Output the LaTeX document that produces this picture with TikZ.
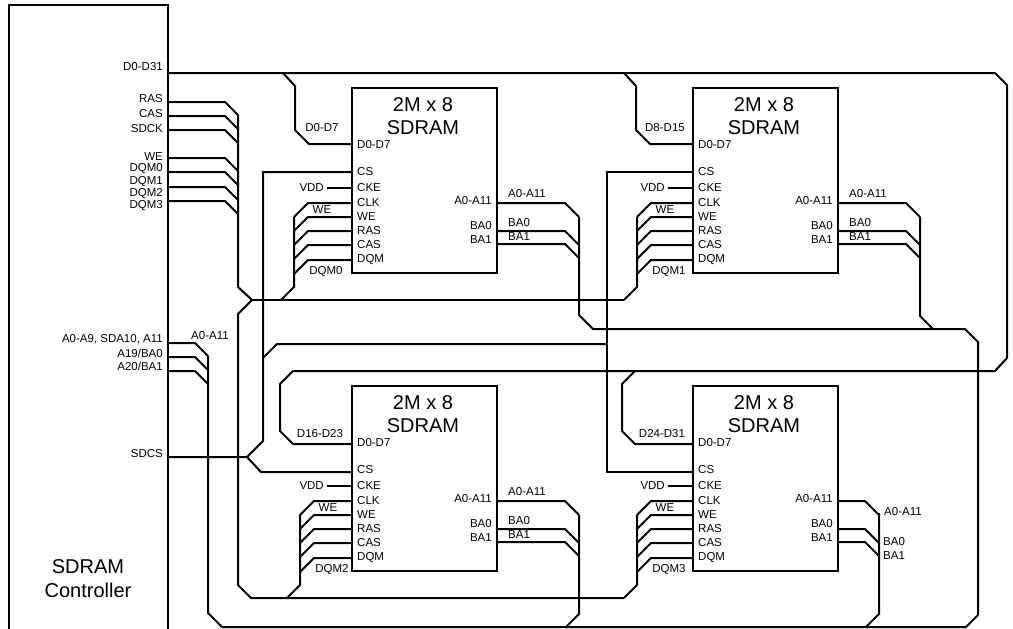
\documentclass[tikz,border=0pt]{standalone}
\usepackage{fontspec}
\setmainfont{Liberation Sans}
\usetikzlibrary{positioning,calc}

\begin{document}
\begin{tikzpicture}[x=1pt,y=-1pt,
        wire/.style={line width=2pt},
        chipbox/.style={draw,line width=2pt,minimum width=145pt,minimum height=185pt,inner sep=0pt},
        pin/.style={font=\fontsize{11.5}{12}\selectfont,inner sep=0pt},
        title/.style={font=\fontsize{20}{22}\selectfont,inner sep=0pt}]
    \useasboundingbox (0,0) rectangle (1013,629);

    % controller
    \draw[wire] (9,629) -- (9,5) -- (168,5) -- (168,629);
    \node[title] (ctrlA) at (88,567) {SDRAM};
    \node[title] (ctrlB) at (88,590) {Controller};
    \foreach \y/\t in {67/D0-D31,99/RAS,114/CAS,129/SDCK,157/WE,169/DQM0,182/DQM1,194/DQM2,206/DQM3,454/SDCS}
        \node[pin,anchor=east] (ctl-\y) at (163,\y) {\t};
    \node[pin,anchor=east] (ctl-adr) at (163,339) {A0-A9, SDA10, A11};
    \node[pin,anchor=east] (ctl-ba0) at (163,353) {A19/BA0};
    \node[pin,anchor=east] (ctl-ba1) at (163,366) {A20/BA1};
    \node[pin] (adrbus) at (210,336) {A0-A11};

    % the four memory chips
    \foreach \n/\dx/\dy/\bx/\dqm/\ra in {0/0/0/294/DQM0/565,1/341/0/296/DQM1/565,2/0/298/300/DQM2/565,3/341/298/296/DQM3/524} {
        \begin{scope}[shift={(\dx,\dy)}]
            \node[chipbox] (chip\n) at (424.5,180.5) {};
            \node[title] (chip\n-size) at (423,105) {2M x 8};
            \node[title] (chip\n-type) at (423,128) {SDRAM};
            \foreach \y/\t in {145/D0-D7,172/CS,188/CKE,203/CLK,217/WE,231/RAS,245/CAS,260/DQM}
                \node[pin,anchor=west] (chip\n-l\y) at (357,\y) {\t};
            \foreach \y/\t in {201/A0-A11,226/BA0,240/BA1}
                \node[pin,anchor=east] (chip\n-r\y) at (492,\y) {\t};
            \node[pin,anchor=east] (chip\n-vdd) at (324,188) {VDD};
            \draw[wire] (327,188) -- (352,188);
            \foreach \y in {203,217,231,245,260}
                \draw[wire] (352,\y) -- (\bx+14,\y) -- (\bx,\y+14);
            \draw[wire] (\bx,217) -- (\bx,287) -- (\bx-13,300);
            \node[pin] (chip\n-we) at (\bx+28,210) {WE};
            \node[pin] (chip\n-dqm) at (\bx+32,272) {\dqm};
            \foreach \y in {203,231,244}
                \draw[wire] (497,\y) -- (\ra,\y) -- (\ra+14,\y+14);
        \end{scope}
    }

    % address pin labels outside the chips
    \foreach \n/\dx/\dy in {0/0/0,1/341/0,2/0/298} {
        \node[pin,anchor=west] (adr\n-a) at (508+\dx,194+\dy) {A0-A11};
        \node[pin,anchor=west] (adr\n-b) at (508+\dx,223+\dy) {BA0};
        \node[pin,anchor=west] (adr\n-c) at (508+\dx,237+\dy) {BA1};
    }
    \node[pin,anchor=west] (adr3-a) at (884,512) {A0-A11};
    \node[pin,anchor=west] (adr3-b) at (883,542) {BA0};
    \node[pin,anchor=west] (adr3-c) at (883,556) {BA1};

    % data bus
    \draw[wire] (168,73) -- (995,73) -- (1007,85) -- (1007,358) -- (995,371) -- (293,371) -- (280,384) -- (280,431) -- (293,444) -- (352,444);
    \draw[wire] (283,73) -- (295,86) -- (295,130) -- (309,144) -- (352,144);
    \draw[wire] (624,73) -- (636,86) -- (636,130) -- (650,144) -- (693,144);
    \draw[wire] (635,371) -- (622,384) -- (622,431) -- (635,444) -- (693,444);
    \node[pin] (dat0) at (322,128) {D0-D7};
    \node[pin] (dat1) at (665,128) {D8-D15};
    \node[pin] (dat2) at (320,434) {D16-D23};
    \node[pin] (dat3) at (662,434) {D24-D31};

    % control bus
    \foreach \y in {102,116,130,158,172,187,201}
        \draw[wire] (168,\y) -- (225,\y) -- (238,\y+13);
    \draw[wire] (238,115) -- (238,287) -- (252,300) -- (238,314) -- (238,585) -- (251,598) -- (624,598);
    \draw[wire] (252,300) -- (624,300);

    % chip select
    \draw[wire] (168,457) -- (247,457) -- (263,441) -- (263,172) -- (352,172);
    \draw[wire] (247,457) -- (261,472) -- (352,472);
    \draw[wire] (263,358) -- (277,344) -- (607,344);
    \draw[wire] (693,172) -- (607,172) -- (607,472) -- (693,472);

    % address bus
    \foreach \y in {343,357,371}
        \draw[wire] (168,\y) -- (195,\y) -- (208,\y+13);
    \draw[wire] (208,356) -- (208,613) -- (222,627) -- (966,627) -- (978,615) -- (978,342) -- (965,329) -- (593,329) -- (579,315) -- (579,217);
    \draw[wire] (920,217) -- (920,316) -- (933,329);
    \draw[wire] (579,515) -- (579,614) -- (566,627);
    \draw[wire] (879,513) -- (879,614) -- (866,627);
\end{tikzpicture}
\end{document}
